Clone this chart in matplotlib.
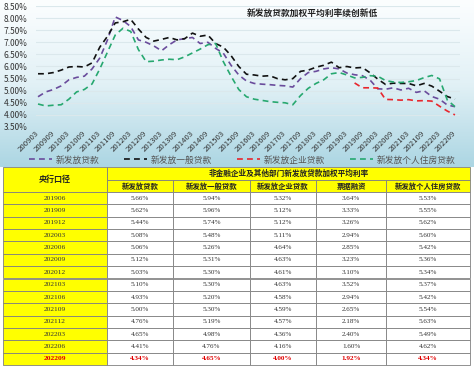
import numpy as np
import matplotlib
matplotlib.use('Agg')
import matplotlib.pyplot as plt
from matplotlib.patches import Rectangle
from matplotlib.colors import LinearSegmentedColormap
from matplotlib.ticker import FormatStrFormatter

plt.rcParams['font.family'] = ['Noto Sans CJK SC', 'DejaVu Sans']

W, H = 474, 372

# ---------------- data ----------------
tick_labels = ['200903', '200909', '201003', '201009', '201103', '201109',
               '201203', '201209', '201303', '201309', '201403', '201409',
               '201503', '201509', '201603', '201609', '201703', '201709',
               '201803', '201809', '201903', '201909', '202003', '202009',
               '202103', '202109', '202203', '202209']

# quarterly, 2009Q1 .. 2019Q1
early_all = [4.75, 4.95, 5.05, 5.20, 5.45, 5.55, 5.60, 5.90, 6.35, 7.10,
             8.05, 7.90, 7.65, 7.10, 7.00, 6.85, 6.65, 6.90, 7.10, 7.15,
             7.20, 6.95, 7.00, 6.75, 6.55, 6.05, 5.65, 5.40, 5.30, 5.27,
             5.25, 5.22, 5.20, 5.15, 5.50, 5.75, 5.80, 5.90, 5.95, 5.90, 5.73]
early_general = [5.70, 5.70, 5.75, 5.85, 5.98, 6.00, 5.98, 6.15, 6.80, 7.25,
                 7.80, 7.85, 7.95, 7.55, 7.20, 7.05, 7.12, 7.20, 7.10, 7.15,
                 7.38, 7.25, 7.30, 6.95, 6.80, 6.45, 6.00, 5.68, 5.65, 5.60,
                 5.62, 5.50, 5.45, 5.50, 5.80, 5.85, 5.97, 6.05, 6.18, 5.95, 6.00]
early_house = [4.45, 4.37, 4.40, 4.42, 4.65, 4.95, 5.05, 5.28, 5.90, 6.60,
               7.30, 7.58, 7.45, 6.70, 6.20, 6.22, 6.27, 6.30, 6.28, 6.40,
               6.56, 6.72, 6.90, 6.95, 6.20, 5.60, 5.05, 4.75, 4.65, 4.60,
               4.55, 4.52, 4.50, 4.42, 4.80, 5.10, 5.30, 5.45, 5.70, 5.75, 5.65]

# table (2019Q2 .. 2022Q3)
tbl_periods = ['201906', '201909', '201912', '202003', '202006', '202009',
               '202012', '202103', '202106', '202109', '202112', '202203',
               '202206', '202209']
tbl_all = [5.66, 5.62, 5.44, 5.08, 5.06, 5.12, 5.03, 5.10, 4.93, 5.00,
           4.76, 4.65, 4.41, 4.34]
tbl_general = [5.94, 5.96, 5.74, 5.48, 5.26, 5.31, 5.30, 5.30, 5.20, 5.30,
               5.19, 4.98, 4.76, 4.65]
tbl_corp = [5.32, 5.12, 5.12, 5.11, 4.64, 4.63, 4.61, 4.63, 4.58, 4.59,
            4.57, 4.36, 4.16, 4.00]
tbl_bill = [3.64, 3.33, 3.26, 2.94, 2.85, 3.23, 3.10, 3.52, 2.94, 2.65,
            2.18, 2.40, 1.60, 1.92]
tbl_house = [5.53, 5.55, 5.62, 5.60, 5.42, 5.36, 5.34, 5.37, 5.42, 5.54,
             5.63, 5.49, 4.62, 4.34]

col_names = ['新发放贷款', '新发放一般贷款', '新发放企业贷款', '票据融资', '新发放个人住房贷款']


def qidx(p):
    return (int(p[:4]) - 2009) * 4 + int(p[4:]) // 3 - 1


series_all = early_all + tbl_all
series_general = early_general + tbl_general
series_house = early_house + tbl_house
x_all = np.arange(len(series_all))
x_corp = [qidx(p) for p in tbl_periods]

# ---------------- figure ----------------
fig = plt.figure(figsize=(W / 100, H / 100), dpi=100)

bg = fig.add_axes([0, 0, 1, 1])
bg.set_xlim(0, W)
bg.set_ylim(H, 0)
bg.axis('off')
cmap = LinearSegmentedColormap.from_list('bg', ['#fcfeff', '#e2f1f6', '#acd6e3'])
grad = np.linspace(0, 1, 200).reshape(-1, 1)
bg.imshow(grad, extent=[0, W, 167, 0], aspect='auto', cmap=cmap, zorder=0)

# line chart
x0, x1 = 35.7, 459.6
ax = fig.add_axes([x0 / W, 1 - 127 / H, (x1 - x0) / W, 121 / H])
ax.set_facecolor('none')
ax.set_xlim(-0.3, 54.6)
ax.set_ylim(3.5, 8.5)
for s in ax.spines.values():
    s.set_visible(False)
ax.set_yticks(np.arange(3.5, 8.51, 0.5))
ax.yaxis.set_major_formatter(FormatStrFormatter('%.2f%%'))
ax.grid(axis='y', color='#dbe8ec', lw=0.8)
ax.set_axisbelow(True)
ax.tick_params(length=0, labelsize=6, labelcolor='#333333')
ax.tick_params(axis='y', pad=6.0)
ax.set_xticks([qidx(t) for t in tick_labels])
ax.set_xticklabels(tick_labels, rotation=45, ha='right', va='center',
                   rotation_mode='anchor', fontsize=5.6)
ax.tick_params(axis='x', pad=3.5)

ls = (0, (3.5, 2.5))
ax.plot(x_all, series_all, color='#6a4c9c', lw=1.2, ls=ls, label='新发放贷款')
ax.plot(x_all, series_general, color='#111111', lw=1.2, ls=ls, label='新发放一般贷款')
ax.plot(x_corp, tbl_corp, color='#e8262d', lw=1.2, ls=ls, label='新发放企业贷款')
ax.plot(x_all, series_house, color='#27a870', lw=1.2, ls=ls, label='新发放个人住房贷款')

fig.text(312 / W, 1 - 13 / H, '新发放贷款加权平均利率续创新低', fontsize=6.3,
         weight='bold', ha='center', va='center', color='#222222')

ax.legend(loc='center', bbox_to_anchor=(242 / W, 1 - 160 / H),
          bbox_transform=fig.transFigure, ncol=4, frameon=False, fontsize=6.3,
          handlelength=2.6, handletextpad=0.4, columnspacing=2.9,
          labelcolor='#555555', borderpad=0)

# ---------------- table ----------------
cols = [3, 107, 173, 250, 316, 386, 470]
t_top, h1, h2, t_bot = 167, 180, 192, 365
rh = (t_bot - h2) / len(tbl_periods)
edge = '#808080'
yellow = '#ffff00'
num_font = ['Liberation Serif', 'DejaVu Serif']


def cell(x, y, w, h, fc, text, **kw):
    bg.add_patch(Rectangle((x, y), w, h, facecolor=fc, edgecolor=edge, lw=0.6, zorder=2))
    bg.text(x + w / 2, y + h / 2, text, ha='center', va='center', zorder=3, **kw)


cell(cols[0], t_top, cols[1] - cols[0], h2 - t_top, yellow, '央行口径',
     fontsize=5.8, weight='bold', color='#222222')
cell(cols[1], t_top, cols[-1] - cols[1], h1 - t_top, yellow,
     '非金融企业及其他部门新发放贷款加权平均利率', fontsize=5.5, weight='bold', color='#222222')
for j, name in enumerate(col_names):
    cell(cols[j + 1], h1, cols[j + 2] - cols[j + 1], h2 - h1, yellow, name,
         fontsize=5.3, weight='bold', color='#222222')

columns = [tbl_all, tbl_general, tbl_corp, tbl_bill, tbl_house]
for r, p in enumerate(tbl_periods):
    y = h2 + r * rh
    last = r == len(tbl_periods) - 1
    c = '#e00000' if last else '#333333'
    wt = 'bold' if last else 'normal'
    cell(cols[0], y, cols[1] - cols[0], rh, yellow, p, fontsize=5.4,
         color=c, weight=wt, family=num_font)
    for j, col in enumerate(columns):
        cell(cols[j + 1], y, cols[j + 2] - cols[j + 1], rh, 'white',
             f'{col[r]:.2f}%', fontsize=5.1, color=c, weight=wt, family=num_font)

fig.savefig('out.png', dpi=100)
